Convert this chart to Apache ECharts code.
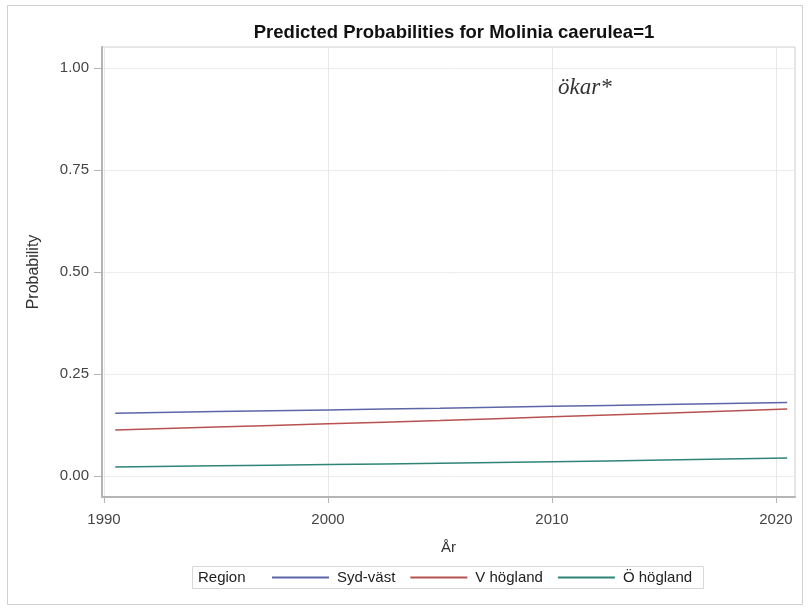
<!DOCTYPE html>
<html>
<head>
<meta charset="utf-8">
<script src="https://cdn.jsdelivr.net/npm/echarts@6/dist/echarts.min.js"></script>
<style>html,body{margin:0;padding:0;background:#fff}#c{width:808px;height:608px}</style>
</head>
<body>
<div id="c"></div>
<script>
var years = [1990.5, 1995, 2000, 2005, 2010, 2015, 2020.5];
var sydVast = [0.154, 0.158, 0.162, 0.166, 0.171, 0.175, 0.180];
var vHogland = [0.113, 0.120, 0.128, 0.136, 0.145, 0.154, 0.164];
var oHogland = [0.022, 0.025, 0.028, 0.031, 0.035, 0.039, 0.044];
var xTicks = [1990, 2000, 2010, 2020];
var yTicks = [0, 0.25, 0.5, 0.75, 1.0];
var seriesNames = ['Syd-väst', 'V högland', 'Ö högland'];
var seriesColors = ['#5d66a8', '#b85252', '#2f8478'];
var seriesData = [sydVast, vHogland, oHogland];

function pairs(xs, ys) { return xs.map(function (x, i) { return [x, ys[i]]; }); }

var font = '"Liberation Sans", Arial, sans-serif';
var chart = echarts.init(document.getElementById('c'), null, {renderer: 'canvas'});
chart.setOption({
  animation: false,
  backgroundColor: '#fff',
  title: {
    text: 'Predicted Probabilities for Molinia caerulea=1',
    left: 449, top: 18, textAlign: 'center',
    textStyle: {fontFamily: font, fontSize: 18.5, fontWeight: 'bold', color: '#111'}
  },
  grid: {left: 102, top: 47, right: 13, bottom: 111, show: true, borderColor: '#cccccc', borderWidth: 1, backgroundColor: 'transparent'},
  xAxis: {
    type: 'value', min: 1989.91, max: 2020.85,
    name: 'År', nameLocation: 'middle', nameGap: 43,
    nameTextStyle: {fontFamily: font, fontSize: 15, color: '#333'},
    axisLine: {show: true, onZero: false, lineStyle: {color: '#b5b5b5', width: 2}},
    axisTick: {show: true, customValues: xTicks, length: 6, lineStyle: {color: '#b5b5b5'}},
    axisLabel: {customValues: xTicks, fontFamily: font, fontSize: 15, color: '#444', margin: 15,
      showMinLabel: true, showMaxLabel: true, formatter: function (v) { return String(v); }},
    splitLine: {show: true, lineStyle: {color: '#e8e8e8', width: 1}}
  },
  yAxis: {
    type: 'value', min: -0.0515, max: 1.0515,
    name: 'Probability', nameLocation: 'middle', nameGap: 60, nameRotate: 90,
    nameTextStyle: {fontFamily: font, fontSize: 16, color: '#333'},
    axisLine: {show: true, onZero: false, lineStyle: {color: '#b5b5b5', width: 2}},
    axisTick: {show: true, customValues: yTicks, length: 8, lineStyle: {color: '#b5b5b5'}},
    axisLabel: {customValues: yTicks, fontFamily: font, fontSize: 15, color: '#444', margin: 13,
      formatter: function (v) { return v.toFixed(2); }},
    splitLine: {show: true, lineStyle: {color: '#ececec', width: 1}}
  },
  legend: {
    left: 271, top: 570, padding: 0, itemWidth: 57, itemHeight: 18, itemGap: 14,
    itemStyle: {opacity: 0},
    textStyle: {fontFamily: font, fontSize: 15, color: '#222', padding: [0, 0, 0, 3]},
    data: seriesNames
  },
  graphic: [
    {type: 'rect', shape: {x: 7.5, y: 5.5, width: 795, height: 599}, style: {fill: 'none', stroke: '#d0d0d0', lineWidth: 1}, silent: true, z: -10},
    {type: 'rect', shape: {x: 192.5, y: 566.5, width: 511, height: 22}, style: {fill: 'none', stroke: '#d8d8d8', lineWidth: 1}, silent: true},
    {type: 'text', left: 198, top: 570, style: {text: 'Region', font: '15px ' + font, fill: '#222'}},
    {type: 'text', left: 558, top: 76, style: {text: 'ökar*', font: 'italic 23px "Liberation Serif", "DejaVu Serif", serif', fill: '#333'}}
  ],
  series: seriesNames.map(function (n, i) {
    return {
      name: n, type: 'line', data: pairs(years, seriesData[i]), symbol: 'none', smooth: true,
      lineStyle: {color: seriesColors[i], width: 1.5}, itemStyle: {color: seriesColors[i]}
    };
  })
});
</script>
</body>
</html>
